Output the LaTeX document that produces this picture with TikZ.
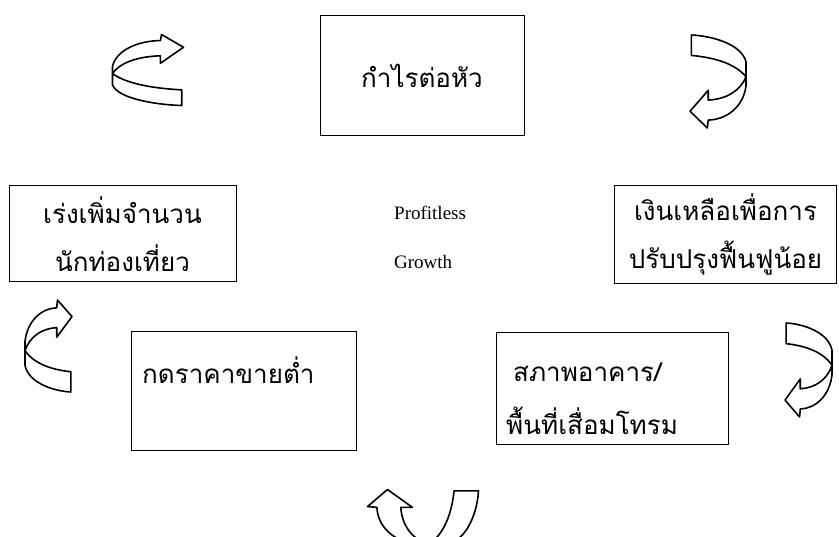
\documentclass[tikz,border=0pt]{standalone}
\usepackage{fontspec}
\setmainfont{Liberation Serif}
\newfontfamily\thaifont[Script=Thai]{Loma}

\tikzset{
	box/.style={draw, line width=1pt, inner sep=0pt, align=center},
	thai/.style={font=\thaifont\fontsize{26}{48}\selectfont},
	latin/.style={font=\fontsize{19}{48}\selectfont},
	% curved block arrow, head at the top pointing right
	turnarrow/.pic={
		\draw[fill=white, line width=1.6pt, line join=round]
			(-1,0.1) .. controls (-0.6,0.4) and (0.2,0.52) .. (0.95,0.56) -- (0.95,1)
			.. controls (0.2,0.98) and (-0.85,0.8) .. (-1,0.42) -- cycle;
		\draw[fill=white, line width=1.6pt, line join=round]
			(-1,-0.1) .. controls (-0.9,-0.55) and (-0.3,-0.82) .. (0.35,-0.83)
			-- (0.38,-1) -- (1,-0.64) -- (0.35,-0.19) -- (0.35,-0.4)
			.. controls (-0.3,-0.38) and (-0.8,-0.2) .. (-1,0.1) -- cycle;
	}
}

\begin{document}
\begin{tikzpicture}[x=1pt, y=-1pt]
	\clip (0,0) rectangle (839,537);
	\useasboundingbox (0,0) rectangle (839,537);

	% boxes
	\node[box, thai, minimum width=204, minimum height=120] (profit) at (422,76) {กำไรต่อหัว};
	\node[box, thai, minimum width=227, minimum height=96] (more) at (122.5,234) {เร่งเพิ่มจำนวน\\นักท่องเที่ยว};
	\node[box, thai, minimum width=222, minimum height=98] (fund) at (725.5,235) {เงินเหลือเพื่อการ\\ปรับปรุงฟื้นฟูน้อย};
	\node[box, minimum width=225, minimum height=119] (price) at (243.5,391.5) {};
	\node[box, minimum width=232, minimum height=112] (decay) at (612,389) {};

	% texts inside the lower boxes
	\node[thai, anchor=west, inner sep=0pt] (pricetxt) at (142,370) {กดราคาขายต่ำ};
	\node[thai, anchor=west, inner sep=0pt] (decaytxt1) at (513,372) {สภาพอาคาร/};
	\node[thai, anchor=west, inner sep=0pt] (decaytxt2) at (506,421) {พื้นที่เสื่อมโทรม};

	% centre
	\node[latin, anchor=west, inner sep=0pt] (pro) at (394,213) {Profitless};
	\node[latin, anchor=west, inner sep=0pt] (grow) at (394,262) {Growth};

	% arrows
	\pic at (148,70) [xscale=35.5, yscale=35.5] {turnarrow};
	\pic at (48.5,346) [xscale=23.5, yscale=46] {turnarrow};
	\pic at (718,81.5) [rotate=180, xscale=28, yscale=46.5] {turnarrow};
	\pic at (808.5,370) [rotate=180, xscale=23.5, yscale=47] {turnarrow};
	\pic at (423,517) [rotate=90, xscale=27.5, yscale=55.5] {turnarrow};
\end{tikzpicture}
\end{document}
